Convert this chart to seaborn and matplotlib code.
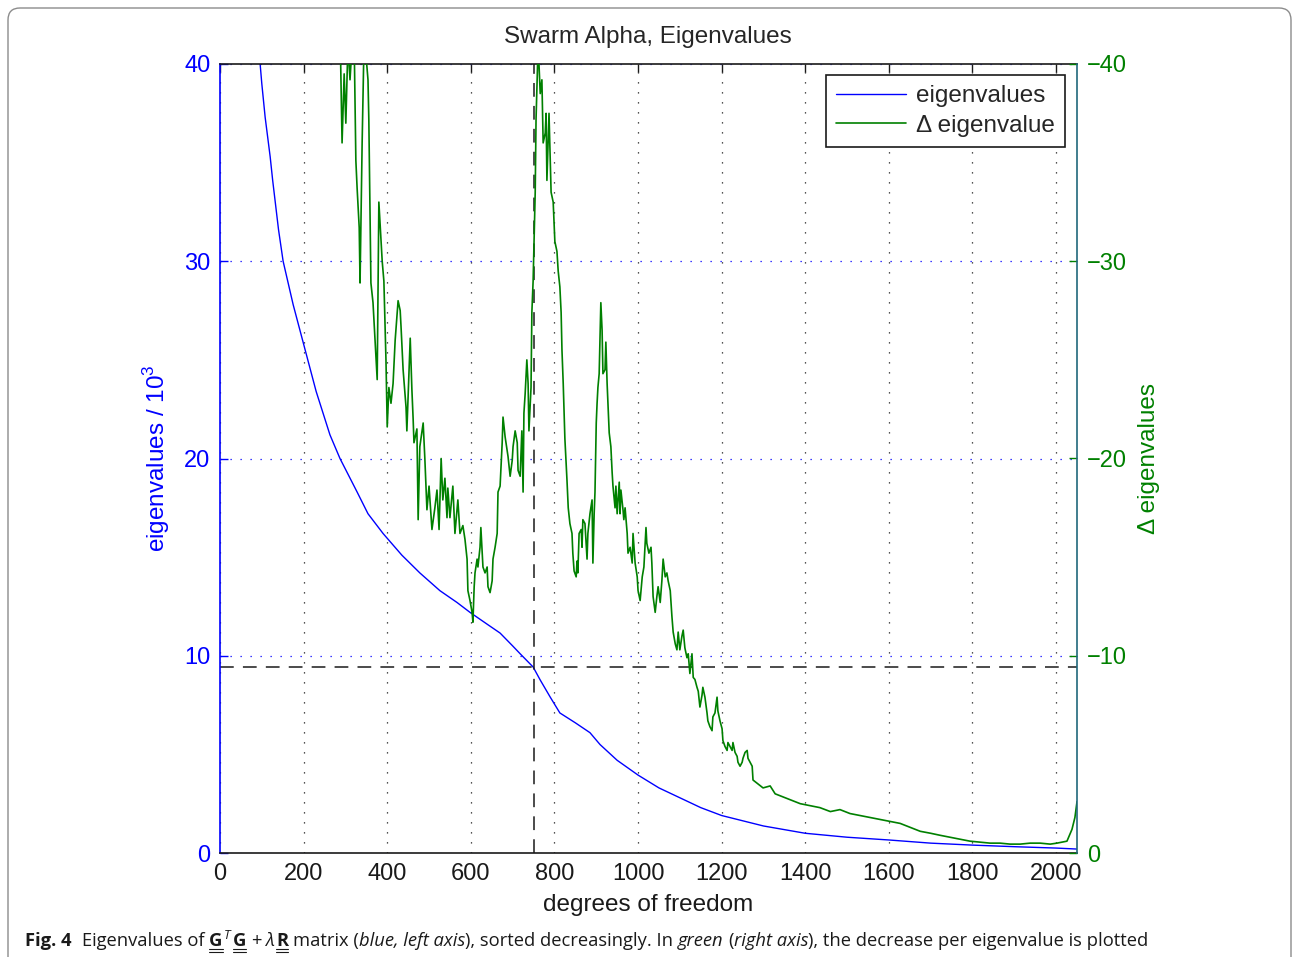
import numpy as np
import matplotlib
matplotlib.use("Agg")
import matplotlib.pyplot as plt
import seaborn as sns
from matplotlib.lines import Line2D
from matplotlib.patches import FancyBboxPatch
from matplotlib.transforms import IdentityTransform

# ---- data ----
eig_dof = [90, 100, 108, 120, 126, 140, 151, 175, 200, 230, 263, 287, 328, 354, 390,
           435, 478, 526, 567, 598, 639, 670, 700, 718, 749, 766, 790, 813, 850, 885,
           909, 950, 1000, 1050, 1100, 1150, 1200, 1300, 1400, 1500, 1600, 1700, 1800,
           1900, 2000, 2050]
eig_vals = [41.5, 39.0, 37.3, 35.3, 34.1, 31.6, 30.0, 27.8, 25.8, 23.4, 21.2, 20.0, 18.3,
            17.2, 16.2, 15.1, 14.2, 13.3, 12.7, 12.2, 11.6, 11.15, 10.5, 10.1, 9.43, 8.77,
            7.9, 7.1, 6.6, 6.1, 5.5, 4.7, 3.95, 3.3, 2.8, 2.3, 1.9, 1.37, 1.0, 0.8, 0.66,
            0.5, 0.4, 0.32, 0.25, 0.2]

delta_dof = [287, 292, 297, 301, 306, 311, 316, 321, 325, 328, 333, 335, 340, 344, 349,
             354, 356, 361, 366, 371, 376, 380, 388, 392, 397, 400, 404, 409, 414, 419,
             426, 431, 433, 438, 445, 447, 455, 459, 462, 464, 471, 474, 478, 486, 490,
             495, 500, 507, 514, 519, 524, 529, 533, 538, 543, 545, 550, 557, 562, 569,
             574, 581, 586, 591, 593, 598, 603, 605, 608, 610, 615, 617, 622, 624, 629,
             634, 639, 641, 646, 651, 653, 658, 663, 665, 670, 675, 677, 682, 687, 689,
             694, 699, 701, 706, 711, 713, 718, 722, 725, 727, 730, 734, 737, 739, 744,
             746, 749, 754, 756, 761, 766, 770, 773, 778, 780, 782, 787, 792, 797, 801,
             806, 809, 813, 816, 818, 821, 825, 830, 833, 837, 842, 844, 847, 852, 854,
             856, 859, 864, 866, 868, 873, 878, 880, 885, 890, 892, 895, 897, 900, 902,
             904, 907, 911, 914, 916, 921, 923, 926, 931, 935, 938, 940, 945, 947, 950,
             955, 957, 959, 964, 966, 969, 974, 976, 981, 986, 988, 993, 998, 1000, 1005,
             1010, 1014, 1019, 1021, 1026, 1031, 1033, 1036, 1041, 1045, 1048, 1053, 1057,
             1060, 1065, 1069, 1072, 1077, 1081, 1084, 1089, 1093, 1096, 1100, 1105, 1108,
             1112, 1117, 1120, 1124, 1129, 1132, 1136, 1141, 1144, 1148, 1153, 1155, 1160,
             1165, 1167, 1172, 1177, 1179, 1184, 1189, 1191, 1196, 1201, 1203, 1208, 1213,
             1215, 1220, 1225, 1227, 1232, 1237, 1239, 1244, 1249, 1251, 1256, 1261, 1263,
             1268, 1273, 1275, 1287, 1299, 1316, 1328, 1340, 1364, 1388, 1411, 1435, 1460,
             1483, 1507, 1531, 1555, 1579, 1603, 1627, 1651, 1675, 1700, 1722, 1746, 1770,
             1794, 1818, 1842, 1866, 1890, 1914, 1938, 1962, 1986, 2002, 2026, 2038, 2045,
             2050]
delta_mag = [42.0, 36.0, 39.5, 37.0, 41.0, 39.2, 41.0, 41.0, 35.1, 33.7, 31.7, 28.9, 36.0,
             40.5, 40.5, 39.2, 37.2, 28.9, 27.9, 26.0, 24.0, 33.0, 30.0, 29.0, 25.0, 21.6,
             23.6, 22.8, 23.8, 26.0, 28.0, 27.5, 26.7, 24.5, 22.6, 21.4, 26.1, 23.5, 22.0,
             20.8, 21.5, 16.9, 20.6, 21.8, 20.0, 17.4, 18.6, 16.4, 17.5, 18.4, 16.4, 20.0,
             17.9, 19.0, 17.0, 18.5, 17.0, 18.6, 16.2, 17.9, 16.2, 16.6, 15.9, 14.9, 13.3,
             12.8, 12.2, 11.7, 13.5, 14.2, 14.9, 14.5, 15.5, 16.5, 14.5, 14.2, 14.5, 13.5,
             13.2, 13.8, 14.9, 15.5, 16.2, 18.3, 18.6, 20.8, 22.1, 21.1, 20.4, 20.1, 19.1,
             19.9, 20.6, 21.4, 20.8, 19.4, 19.1, 21.4, 18.3, 22.3, 23.3, 25.0, 23.8, 21.4,
             23.6, 27.4, 29.0, 33.5, 37.2, 41.0, 38.5, 39.2, 36.0, 36.5, 37.5, 34.1, 37.5,
             33.5, 33.0, 31.0, 30.5, 29.5, 28.7, 27.4, 25.5, 23.8, 21.0, 18.9, 17.5, 16.7,
             16.2, 15.2, 14.3, 14.0, 14.8, 14.2, 16.2, 16.4, 15.5, 16.9, 16.7, 14.9, 16.2,
             17.2, 17.9, 14.7, 17.2, 18.3, 21.8, 22.8, 23.6, 24.3, 27.9, 26.5, 24.3, 24.5,
             25.9, 23.8, 21.3, 20.6, 19.3, 18.6, 17.5, 18.6, 17.2, 18.8, 17.2, 18.4, 17.4,
             16.9, 17.5, 16.2, 15.2, 15.5, 14.7, 16.2, 14.7, 14.0, 13.3, 12.8, 14.0, 14.5,
             16.5, 15.7, 15.2, 15.5, 14.7, 13.0, 12.2, 13.0, 13.5, 12.7, 13.8, 14.9, 14.0,
             14.2, 13.8, 13.3, 12.0, 11.2, 10.6, 10.3, 11.2, 10.3, 11.0, 11.3, 10.4, 9.9,
             10.1, 9.1, 10.1, 8.9, 8.8, 8.4, 8.2, 7.4, 8.0, 8.4, 7.9, 7.1, 6.7, 6.4, 6.2,
             6.9, 7.1, 7.9, 7.2, 6.7, 6.3, 5.7, 5.4, 5.2, 5.6, 5.4, 5.2, 5.6, 5.1, 4.9, 4.6,
             4.4, 4.6, 4.8, 5.1, 5.2, 4.8, 4.6, 4.4, 3.7, 3.5, 3.3, 3.4, 3.0, 2.9, 2.7, 2.5,
             2.4, 2.3, 2.1, 2.2, 2.0, 1.9, 1.8, 1.7, 1.6, 1.5, 1.3, 1.1, 1.0, 0.9, 0.8, 0.7,
             0.6, 0.55, 0.5, 0.5, 0.45, 0.45, 0.5, 0.5, 0.45, 0.5, 0.6, 1.2, 1.8, 2.6]
delta_vals = [-v for v in delta_mag]   # decrease per eigenvalue (negative)

eig_threshold = 9.45   # horizontal dashed line (left axis)
dof_cut = 751          # vertical dashed line

x_ticks = [0, 200, 400, 600, 800, 1000, 1200, 1400, 1600, 1800, 2000]
y_ticks = [0, 10, 20, 30, 40]
y2_ticks = [0, -10, -20, -30, -40]

# ---- style ----
sns.set_theme(style="white")
plt.rcParams['font.family'] = ['Liberation Sans', 'DejaVu Sans']
plt.rcParams['mathtext.fontset'] = 'custom'
plt.rcParams['mathtext.rm'] = 'Liberation Sans'

BLUE = '#0000ff'
GREEN = '#008000'
W, H = 1293, 957
FS = 17.5

fig = plt.figure(figsize=(W / 100, H / 100), dpi=100)
ax = fig.add_axes([220 / W, 1 - 853 / H, 857 / W, 789 / H])

sns.lineplot(x=eig_dof, y=eig_vals, ax=ax, color=BLUE, linewidth=1.0)
ax.axhline(eig_threshold, color='k', linewidth=1.1, linestyle=(0, (9, 6)))
ax.axvline(dof_cut, color='k', linewidth=1.1, linestyle=(0, (9, 6)))

ax.set_xlim(0, 2050)
ax.set_ylim(0, 40)
ax.set_xticks(x_ticks)
ax.set_yticks(y_ticks)
ax.xaxis.grid(True, color='k', linestyle=(0, (1, 7)), linewidth=0.9)
ax.yaxis.grid(True, color=BLUE, linestyle=(0, (1, 7)), linewidth=0.9)
ax.tick_params(axis='x', direction='in', top=True, length=6, width=1, colors='k',
               labelsize=17, pad=7)
ax.tick_params(axis='y', direction='in', length=6, width=1, colors=BLUE,
               labelsize=17, pad=7)
for s in ['top', 'bottom']:
    ax.spines[s].set_color('k')
    ax.spines[s].set_linewidth(1.2)
ax.spines['left'].set_color(BLUE)
ax.spines['left'].set_linewidth(1.2)
ax.spines['right'].set_visible(False)

ax.set_xlabel('degrees of freedom', fontsize=FS, color='k')
ax.xaxis.set_label_coords(0.5, -0.052)
ax.set_ylabel('eigenvalues / 10$^3$', fontsize=FS, color=BLUE)
ax.yaxis.set_label_coords(-0.056, 0.5)

ax2 = ax.twinx()
sns.lineplot(x=delta_dof, y=delta_vals, ax=ax2, color=GREEN, linewidth=1.2)
ax2.set_xlim(0, 2050)
ax2.set_ylim(0, -40)
ax2.set_yticks(y2_ticks)
ax2.tick_params(axis='y', direction='in', length=6, width=1, colors=GREEN,
                labelsize=17, pad=7)
for s in ['left', 'top', 'bottom']:
    ax2.spines[s].set_visible(False)
ax2.spines['right'].set_color('#20687c')
ax2.spines['right'].set_linewidth(1.2)
ax2.set_ylabel('\u0394 eigenvalues', fontsize=FS, color=GREEN)
ax2.yaxis.set_label_coords(1.0712, 0.5)

handles = [Line2D([], [], color=BLUE, lw=1.0), Line2D([], [], color=GREEN, lw=1.2)]
leg = ax2.legend(handles, ['eigenvalues', '\u0394 eigenvalue'], loc='upper right',
                 bbox_to_anchor=(0.986, 0.986), borderaxespad=0, fontsize=FS,
                 frameon=True, fancybox=False, handlelength=2.9, handletextpad=0.4,
                 borderpad=0.42, labelspacing=0.3)
leg.get_frame().set_edgecolor('k')
leg.get_frame().set_linewidth(1.2)
leg.get_frame().set_alpha(1)

fig.text(648 / W, 1 - 37 / H, 'Swarm Alpha, Eigenvalues', ha='center', va='center',
         fontsize=FS)

# ---- caption ----
cap_font = ['Open Sans', 'DejaVu Sans']
cap_size = 13.2
renderer = fig.canvas.get_renderer()
space = cap_size * 0.36
pieces = [
    ('Fig. 4', dict(weight='bold'), 0, 2.2 * space),
    ('Eigenvalues of', {}, 0, space),
    ('G', dict(weight='bold'), 0, 1),
    ('T', dict(style='italic', size=cap_size * 0.7), 7, space * 0.6),
    ('G', dict(weight='bold'), 0, space),
    ('+', {}, 0, space),
    ('\u03bb', dict(style='italic'), 0, 1),
    ('R', dict(weight='bold'), 0, space),
    ('matrix (', {}, 0, 0),
    ('blue, left axis', dict(style='italic'), 0, 0),
    ('), sorted decreasingly. In', {}, 0, space),
    ('green', dict(style='italic'), 0, space),
    ('(', {}, 0, 0),
    ('right axis', dict(style='italic'), 0, 0),
    ('), the decrease per eigenvalue is plotted', {}, 0, 0),
]
x = 25
y0 = 957 - 946
for txt, kw, dy, gap in pieces:
    opts = dict(family=cap_font, size=cap_size, color='#1a1a1a')
    opts.update(kw)
    t = fig.text(x, y0 + dy, txt, transform=IdentityTransform(), ha='left',
                 va='baseline', **opts)
    bb = t.get_window_extent(renderer)
    if txt in ('G', 'R'):
        # double underline below the matrix symbols
        for off in (3, 6):
            fig.add_artist(Line2D([bb.x0, bb.x1], [y0 - off, y0 - off], color='#1a1a1a',
                                  lw=0.8, transform=IdentityTransform()))
    x = bb.x1 + gap

# frame around the figure
frame = FancyBboxPatch((8, -20), 1283, 969, boxstyle="round,pad=0,rounding_size=12",
                       transform=IdentityTransform(), fill=False, edgecolor='#8c8c8c',
                       linewidth=1.0)
fig.add_artist(frame)

fig.savefig('out.png', dpi=100)
